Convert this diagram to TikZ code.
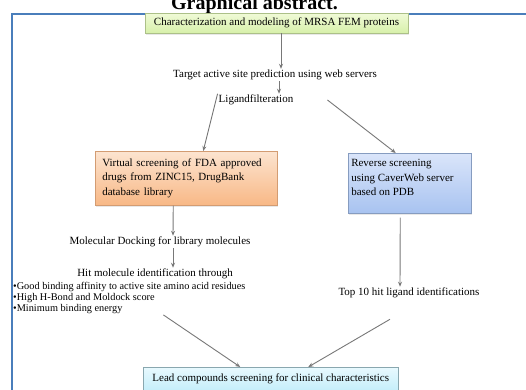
\documentclass[tikz,border=0pt]{standalone}
\usepackage{fontspec}
\setmainfont{Liberation Serif}
\usepackage{tikz}
\usetikzlibrary{arrows.meta, shadows}
\definecolor{frameBlue}{RGB}{74, 126, 187}
\definecolor{arrowGray}{RGB}{120, 120, 120}
\definecolor{greenTop}{RGB}{240, 250, 215}
\definecolor{greenBot}{RGB}{215, 240, 170}
\definecolor{orangeTop}{RGB}{252, 228, 208}
\definecolor{orangeBot}{RGB}{248, 184, 134}
\definecolor{blueTop}{RGB}{218, 229, 250}
\definecolor{blueBot}{RGB}{168, 195, 240}
\definecolor{cyanTop}{RGB}{232, 249, 254}
\definecolor{cyanBot}{RGB}{196, 238, 250}
\tikzset{
  flowbox/.style={rectangle, inner sep=0pt, line width=0.5pt,
    drop shadow={opacity=0.18, shadow xshift=1pt, shadow yshift=-1.5pt}},
  greenbox/.style={flowbox, draw=greenBot!80!black, top color=greenTop, bottom color=greenBot},
  orangebox/.style={flowbox, draw=orangeBot!85!black, top color=orangeTop, bottom color=orangeBot},
  bluebox/.style={flowbox, draw=blueBot!80!black, top color=blueTop, bottom color=blueBot},
  cyanbox/.style={flowbox, draw=cyanBot!70!black, top color=cyanTop, bottom color=cyanBot},
  steptext/.style={inner sep=1pt},
  arr/.style={-{Stealth[length=5pt, width=4pt]}, draw=arrowGray, line width=0.9pt}
}

\begin{document}
\begin{tikzpicture}[x=1pt, y=-1pt, font=\fontsize{11}{14.5}\selectfont]
  \useasboundingbox (0,0) rectangle (526,389);
  \fill[white] (0,0) rectangle (526,389);
  \node[anchor=base, inner sep=0pt, font=\fontsize{20}{24}\selectfont\bfseries] (title) at (254.5,9) {Graphical abstract.};
  \draw[frameBlue, line width=2pt] (11.5,400) |- (540,13.5);

  \node[greenbox, minimum width=263, minimum height=20] (charac) at (276.5,23) {Characterization and modeling of MRSA FEM proteins};
  \node[steptext] (target) at (275,75) {Target active site prediction using web servers};
  \node[steptext] (ligand) at (256,100) {Ligandfilteration};

  \node[orangebox, anchor=north west, text width=168, minimum height=54, inner xsep=7, align=left] (virtual) at (95,151)
    {Virtual screening of FDA approved\\drugs from ZINC15, DrugBank\\database library};
  \node[bluebox, anchor=north west, inner xsep=3] (reverse) at (348,153)
    {\parbox[c][60pt][t]{117pt}{\vspace{6pt}Reverse screening\\using CaverWeb server\\based on PDB}};

  \node[steptext] (docking) at (160,242) {Molecular Docking for library molecules};
  \node[steptext] (hit) at (155,274) {Hit molecule identification through};
  \node[steptext, anchor=north west, align=left, font=\fontsize{10.3}{11}\selectfont] (crit) at (12,281)
    {\textbullet Good binding affinity to active site amino acid residues\\
     \textbullet High H-Bond and Moldock score\\
     \textbullet Minimum binding energy};
  \node[steptext] (top10) at (409,293) {Top 10 hit ligand identifications};

  \node[cyanbox, anchor=north west, minimum width=255, minimum height=24] (lead) at (143,367)
    {Lead compounds screening for clinical characteristics};

  \draw[arr] ([xshift=4.5pt]charac.south) -- ([xshift=6pt]target.north);
  \draw[arr] ([xshift=4pt]target.south) -- ([xshift=23pt]ligand.north);
  \draw[arr] (ligand.north west) -- ([xshift=17pt]virtual.north);
  \draw[arr] ([xshift=33pt]ligand.east) -- ([xshift=-14pt]reverse.north);
  \draw[arr] ([xshift=-13pt]virtual.south) -- ([xshift=13pt]docking.north);
  \draw[arr] ([xshift=13pt]docking.south) -- ([xshift=18pt]hit.north);
  \draw[arr] ([xshift=-9.5pt, yshift=-4pt]reverse.south) -- ([xshift=-9pt]top10.north);
  \draw[arr] ([xshift=34pt]crit.south) -- ([xshift=-30.5pt]lead.north);
  \draw[arr] ([xshift=-19pt, yshift=-20pt]top10.south) -- ([xshift=37.5pt]lead.north);
\end{tikzpicture}
\end{document}
